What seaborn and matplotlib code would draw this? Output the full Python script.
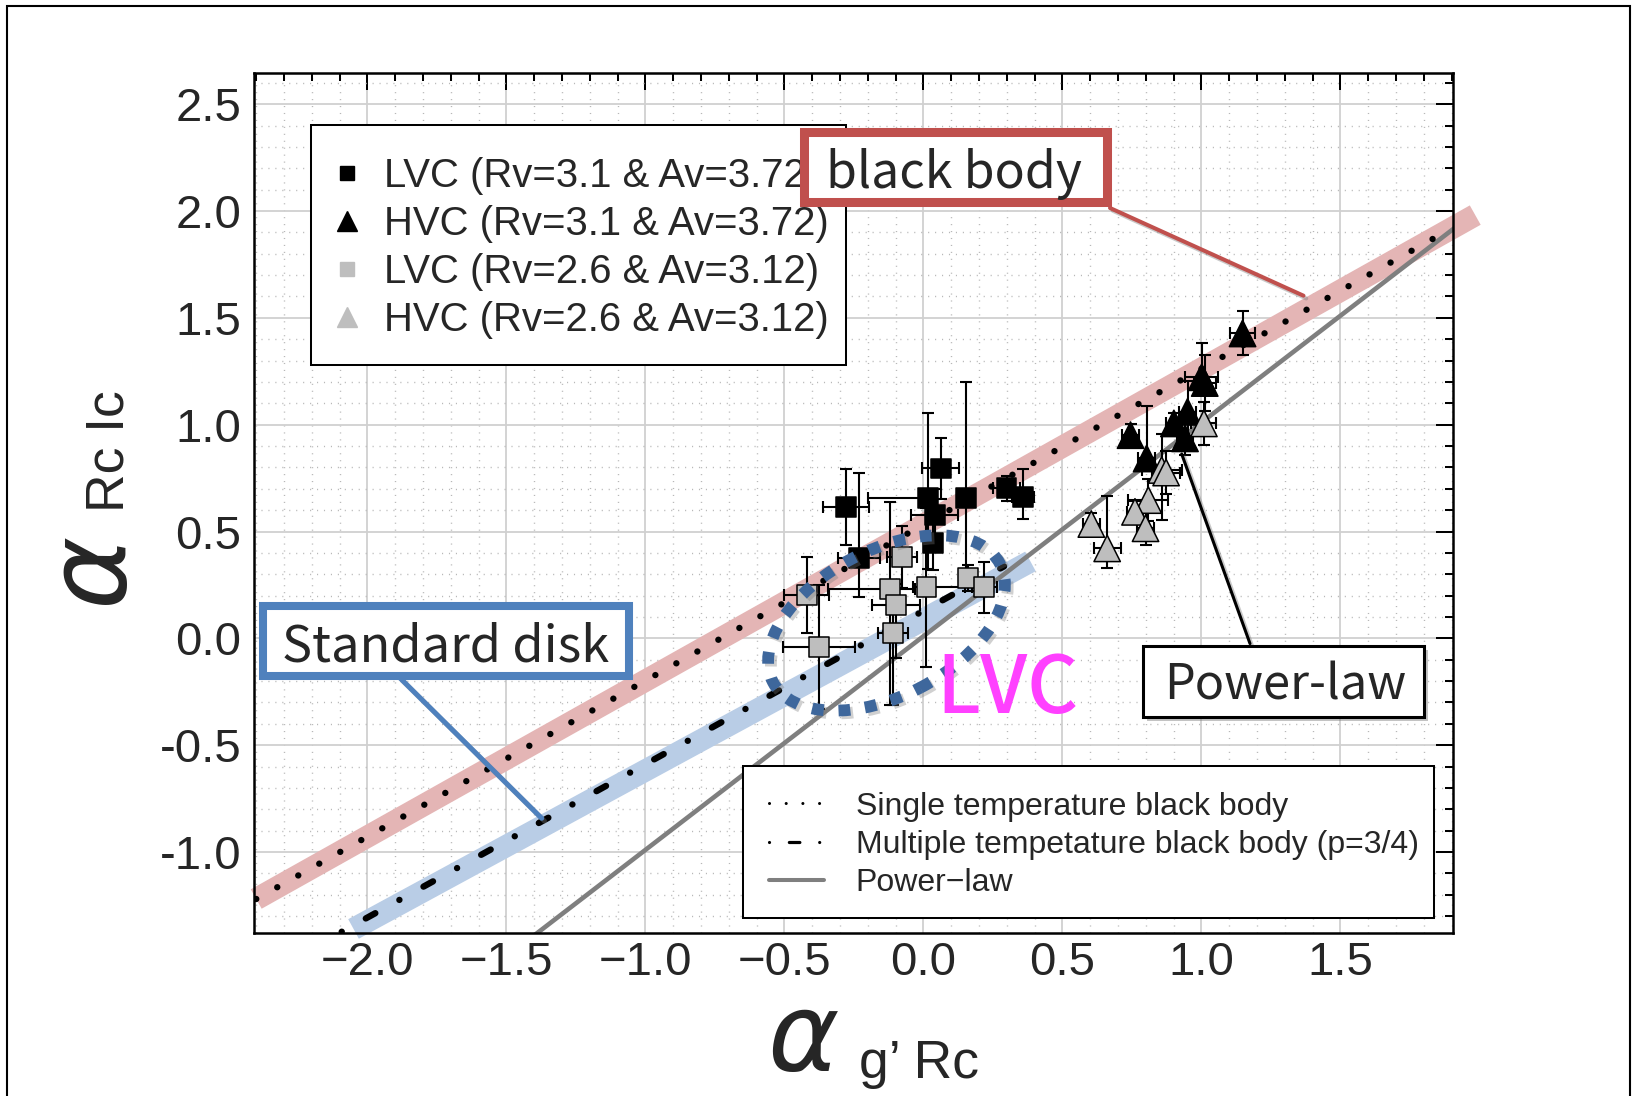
import matplotlib
matplotlib.use("Agg")
import numpy as np
import pandas as pd
import matplotlib.pyplot as plt
import matplotlib.patheffects as pe
from matplotlib.lines import Line2D
from matplotlib.patches import Rectangle, Ellipse
from matplotlib.ticker import MultipleLocator, FixedLocator
import seaborn as sns

# ---------------------------------------------------------------- data
# LVC (Rv=3.1 & Av=3.72)
lvc31_x = [-0.279, -0.231, 0.017, 0.062, 0.041, 0.152, 0.035, 0.299, 0.359]
lvc31_y = [0.616, 0.377, 0.655, 0.795, 0.577, 0.655, 0.445, 0.702, 0.663]
lvc31_xerr_lo = [0.082, 0.075, 0.216, 0.066, 0.085, 0.030, 0.030, 0.050, 0.040]
lvc31_xerr_hi = [0.082, 0.075, 0.030, 0.066, 0.085, 0.030, 0.030, 0.050, 0.040]
lvc31_yerr_lo = [0.177, 0.182, 0.330, 0.144, 0.120, 0.335, 0.125, 0.060, 0.106]
lvc31_yerr_hi = [0.177, 0.395, 0.400, 0.144, 0.120, 0.546, 0.125, 0.060, 0.128]

# HVC (Rv=3.1 & Av=3.72)
hvc31_x = [1.148, 1.001, 1.012, 0.745, 0.803, 0.901, 0.950, 0.941]
hvc31_y = [1.427, 1.222, 1.195, 0.951, 0.842, 1.006, 1.060, 0.936]
hvc31_xerr = [0.045, 0.060, 0.040, 0.030, 0.030, 0.030, 0.030, 0.030]
hvc31_yerr_lo = [0.103, 0.060, 0.130, 0.050, 0.060, 0.050, 0.145, 0.078]
hvc31_yerr_hi = [0.103, 0.158, 0.130, 0.050, 0.245, 0.050, 0.145, 0.078]

# LVC (Rv=2.6 & Av=3.12)
lvc26_x = [-0.420, -0.375, -0.120, -0.099, 0.011, 0.159, 0.218, -0.109, -0.078]
lvc26_y = [0.203, -0.042, 0.229, 0.156, 0.239, 0.281, 0.239, 0.023, 0.379]
lvc26_xerr_lo = [0.081, 0.130, 0.222, 0.085, 0.050, 0.030, 0.045, 0.055, 0.054]
lvc26_xerr_hi = [0.081, 0.130, 0.090, 0.085, 0.140, 0.030, 0.045, 0.055, 0.054]
lvc26_yerr_lo = [0.180, 0.290, 0.540, 0.250, 0.372, 0.060, 0.120, 0.335, 0.145]
lvc26_yerr_hi = [0.180, 0.290, 0.410, 0.100, 0.372, 0.060, 0.120, 0.117, 0.145]

# HVC (Rv=2.6 & Av=3.12)
hvc26_x = [1.009, 0.857, 0.873, 0.809, 0.761, 0.799, 0.604, 0.661]
hvc26_y = [1.006, 0.788, 0.776, 0.647, 0.592, 0.515, 0.535, 0.421]
hvc26_xerr = [0.045, 0.072, 0.050, 0.072, 0.030, 0.030, 0.030, 0.048]
hvc26_yerr_lo = [0.100, 0.235, 0.100, 0.100, 0.050, 0.080, 0.050, 0.094]
hvc26_yerr_hi = [0.100, 0.170, 0.100, 0.100, 0.050, 0.080, 0.050, 0.245]

# model tracks (end points of each straight track)
single_bb_x = [-2.40, 1.90]
single_bb_y = [-1.220, 1.919]
single_band_x = [-2.40, 1.985]
single_band_y = [-1.220, 1.981]
multi_bb_x = [-2.30, 0.29]
multi_bb_y = [-1.522, 0.337]
multi_band_x = [-2.05, 0.385]
multi_band_y = [-1.36, 0.36]
powerlaw_x = [-1.50, 1.95]
powerlaw_y = [-1.49, 1.96]

x_ticks = [-2.0, -1.5, -1.0, -0.5, 0.0, 0.5, 1.0, 1.5]
x_tick_labels = ["\u22122.0", "\u22121.5", "\u22121.0", "\u22120.5", "0.0", "0.5", "1.0", "1.5"]
y_ticks = [-1.0, -0.5, 0.0, 0.5, 1.0, 1.5, 2.0, 2.5]
y_tick_labels = ["-1.0", "-0.5", "0.0", "0.5", "1.0", "1.5", "2.0", "2.5"]

point_labels = ["LVC (Rv=3.1 & Av=3.72)", "HVC (Rv=3.1 & Av=3.72)",
                "LVC (Rv=2.6 & Av=3.12)", "HVC (Rv=2.6 & Av=3.12)"]
model_labels = ["Single temperature black body",
                "Multiple tempetature black body (p=3/4)",
                "Power\u2212law"]
callout_labels = ["black body", "Standard disk", "Power-law", "LVC"]

# ---------------------------------------------------------------- style
sns.set_style("white")
plt.rcParams["font.family"] = ["Liberation Sans", "DejaVu Sans"]
plt.rcParams["axes.unicode_minus"] = True

W, H = 1638, 1096
def fx(px):
    return px / W
def fy(py):
    return 1 - py / H

GRAY = "#bebebe"
fig = plt.figure(figsize=(W / 100, H / 100), dpi=100)
ax = fig.add_axes([fx(254), fy(933), (1453 - 254) / W, (933 - 73) / H])
ax.set_xlim(-2.408, 1.905)
ax.set_ylim(-1.379, 2.646)

ax.xaxis.set_major_locator(FixedLocator(x_ticks))
ax.yaxis.set_major_locator(FixedLocator(y_ticks))
ax.set_xticklabels(x_tick_labels)
ax.set_yticklabels(y_tick_labels)
ax.xaxis.set_minor_locator(MultipleLocator(0.1))
ax.yaxis.set_minor_locator(MultipleLocator(0.1))
ax.set_axisbelow(True)
ax.grid(which="minor", color="#b8b8b8", lw=1.0, ls=(0, (0.8, 4.2)))
ax.grid(which="major", color="#d0d0d0", lw=1.3, ls="-")
ax.tick_params(which="both", direction="in", top=True, right=True,
               width=1.45, color="black")
ax.tick_params(which="major", length=12.5)
ax.tick_params(which="minor", length=5.8)
ax.tick_params(axis="x", which="major", pad=6, labelsize=34)
ax.tick_params(axis="y", which="major", pad=9, labelsize=34)
for sp in ax.spines.values():
    sp.set_linewidth(1.8)
    sp.set_color("black")

# ---------------------------------------------------------------- model tracks
ax.plot(single_band_x, single_band_y, color="#e4b5b5", lw=16,
        solid_capstyle="butt", clip_on=False, zorder=2)
ax.plot(multi_band_x, multi_band_y, color="#b9cde6", lw=16,
        solid_capstyle="butt", clip_on=False, zorder=2)
sns.lineplot(x=powerlaw_x, y=powerlaw_y, color="#7f7f7f", lw=3.3, ax=ax,
             zorder=2.5, estimator=None, sort=False)
ax.plot(single_bb_x, single_bb_y, color="black", lw=4.6,
        ls=(0, (0.01, 3.76)), dash_capstyle="round", zorder=2.6)
ax.plot(multi_bb_x, multi_bb_y, color="black", lw=4.6,
        ls=(0, (0.01, 4.3, 1.7, 4.3)), dash_capstyle="round", zorder=2.6)

# ---------------------------------------------------------------- data points
eb_kw = dict(fmt="none", ecolor="black", elinewidth=1.5, capsize=4.2,
             capthick=1.5, zorder=3)
ax.errorbar(lvc31_x, lvc31_y, xerr=[lvc31_xerr_lo, lvc31_xerr_hi],
            yerr=[lvc31_yerr_lo, lvc31_yerr_hi], **eb_kw)
ax.errorbar(hvc31_x, hvc31_y, xerr=hvc31_xerr,
            yerr=[hvc31_yerr_lo, hvc31_yerr_hi], **eb_kw)
ax.errorbar(lvc26_x, lvc26_y, xerr=[lvc26_xerr_lo, lvc26_xerr_hi],
            yerr=[lvc26_yerr_lo, lvc26_yerr_hi], **eb_kw)
ax.errorbar(hvc26_x, hvc26_y, xerr=hvc26_xerr,
            yerr=[hvc26_yerr_lo, hvc26_yerr_hi], **eb_kw)

points = pd.concat([
    pd.DataFrame({"x": lvc31_x, "y": lvc31_y, "group": point_labels[0]}),
    pd.DataFrame({"x": hvc31_x, "y": hvc31_y, "group": point_labels[1]}),
    pd.DataFrame({"x": lvc26_x, "y": lvc26_y, "group": point_labels[2]}),
    pd.DataFrame({"x": hvc26_x, "y": hvc26_y, "group": point_labels[3]}),
], ignore_index=True)
sns.scatterplot(data=points, x="x", y="y", hue="group", style="group", size="group",
                palette=dict(zip(point_labels, ["black", "black", GRAY, GRAY])),
                markers=dict(zip(point_labels, ["s", "^", "s", "^"])),
                sizes=dict(zip(point_labels, [205, 361, 205, 361])),
                edgecolor="black", linewidth=1.1, legend=False, ax=ax, zorder=4)
ax.set_xlabel("")
ax.set_ylabel("")

# ---------------------------------------------------------------- legends
def legend_frame(x0, y0, x1, y1):
    ax.add_patch(Rectangle((fx(x0), fy(y1)), fx(x1) - fx(x0), fy(y0) - fy(y1),
                           transform=fig.transFigure, facecolor="white",
                           edgecolor="black", lw=1.45, zorder=4.8, clip_on=False))

pt_handles = [
    Line2D([], [], ls="none", marker="s", ms=10.5, mfc="black", mec="black"),
    Line2D([], [], ls="none", marker="^", ms=14, mfc="black", mec="black"),
    Line2D([], [], ls="none", marker="s", ms=10.5, mfc=GRAY, mec=GRAY),
    Line2D([], [], ls="none", marker="^", ms=14, mfc=GRAY, mec=GRAY),
]
legend_frame(311, 125, 846, 365)
leg1 = ax.legend(pt_handles, point_labels, loc="upper left",
                 bbox_to_anchor=(fx(308), fy(127.6)), bbox_transform=fig.transFigure,
                 frameon=False, borderpad=0.74, handlelength=0.46, handletextpad=0.70,
                 labelspacing=0.25, borderaxespad=0,
                 prop=dict(family="Liberation Sans", size=28.9))
leg1.set_zorder(5)
ax.add_artist(leg1)

model_handles = [
    Line2D([], [], color="black", lw=2.2, ls=(0, (0.01, 5.45)), dash_capstyle="round"),
    Line2D([], [], color="black", lw=2.3, ls=(0, (0.01, 6.2, 3.3, 6.2)), dash_capstyle="round"),
    Line2D([], [], color="#7f7f7f", lw=2.9),
]
legend_frame(742.7, 765.7, 1434.2, 918.2)
leg2 = ax.legend(model_handles, model_labels, loc="upper left",
                 bbox_to_anchor=(fx(743), fy(766)), bbox_transform=fig.transFigure,
                 frameon=False, borderpad=0.8, handlelength=1.73, handletextpad=1.0,
                 labelspacing=0.26, borderaxespad=0,
                 prop=dict(family="Liberation Sans", size=23.0))
leg2.set_zorder(5)

# ---------------------------------------------------------------- axis titles
fig.text(fx(768), fy(1070), "\u03b1", fontsize=78, ha="left", va="baseline",
         family="DejaVu Sans", style="italic")
fig.text(fx(859), fy(1078), "g\u2019 Rc", fontsize=38.5, ha="left", va="baseline",
         family="Liberation Sans")
fig.text(fx(123), fy(606), "\u03b1", fontsize=80, ha="left", va="baseline",
         rotation=90, rotation_mode="anchor", family="DejaVu Sans", style="italic")
fig.text(fx(123), fy(512), "Rc Ic", fontsize=38.5, ha="left", va="baseline",
         rotation=90, rotation_mode="anchor", family="Liberation Sans")

# ---------------------------------------------------------------- call-outs
shadow = [pe.withSimplePatchShadow(offset=(3, -3), shadow_rgbFace="#7a7a7a", alpha=0.45)]
line_shadow = [pe.SimpleLineShadow(offset=(2, -2), shadow_color="#7a7a7a", alpha=0.4), pe.Normal()]
CJK = ["Noto Sans CJK JP", "DejaVu Sans"]

def callout_box(x0, y0, x1, y1, color, lw):
    r = Rectangle((fx(x0), fy(y1)), fx(x1) - fx(x0), fy(y0) - fy(y1),
                  transform=fig.transFigure, facecolor="white", edgecolor=color,
                  lw=lw, zorder=5, path_effects=shadow)
    fig.add_artist(r)

def leader(xa, ya, xb, yb, color, lw):
    fig.add_artist(Line2D([fx(xa), fx(xb)], [fy(ya), fy(yb)], transform=fig.transFigure,
                          color=color, lw=lw, zorder=5, path_effects=line_shadow))

RED, BLUE = "#c0504d", "#4f81bd"
leader(1110, 208, 1303.5, 295.7, RED, 2.9)
leader(400, 678, 541.7, 818.3, BLUE, 3.6)
leader(1250, 643.6, 1181.7, 454, "black", 2.2)

callout_box(803.5, 132, 1107, 201.5, RED, 6.5)
callout_box(263.3, 605.7, 628.7, 676, BLUE, 5.8)
callout_box(1143.2, 646, 1424.2, 717.2, "black", 2.2)

fig.text(fx(954), fy(188), callout_labels[0], fontsize=36, ha="center", va="baseline",
         family=CJK, zorder=6)
fig.text(fx(445.5), fy(661), callout_labels[1], fontsize=36.4, ha="center", va="baseline",
         family=CJK, zorder=6)
fig.text(fx(1285), fy(699), callout_labels[2], fontsize=35, ha="center", va="baseline",
         family=CJK, zorder=6)

# dotted ring around the LVC cluster
ring = Ellipse((886.5 / 100, (H - 623) / 100), 2.56, 1.46, angle=27.5,
               transform=fig.dpi_scale_trans, fill=False, edgecolor="#3e679c",
               lw=8.5, ls=(0, (1.0, 1.25)), capstyle="butt", zorder=7,
               path_effects=[pe.SimpleLineShadow(offset=(2, -2), shadow_color="#7a7a7a",
                                                 alpha=0.35), pe.Normal()])
fig.add_artist(ring)
fig.text(fx(1008), fy(713.5), callout_labels[3], fontsize=57, ha="center", va="baseline",
         color="#ff40ff", family=CJK, fontweight="medium", zorder=8)

# outer frame
fig.add_artist(Rectangle((fx(7), fy(1110)), fx(1630) - fx(7), fy(6) - fy(1110),
                         transform=fig.transFigure, fill=False, edgecolor="black",
                         lw=1.5, zorder=9, clip_on=False))

fig.savefig("out.png", dpi=100)
